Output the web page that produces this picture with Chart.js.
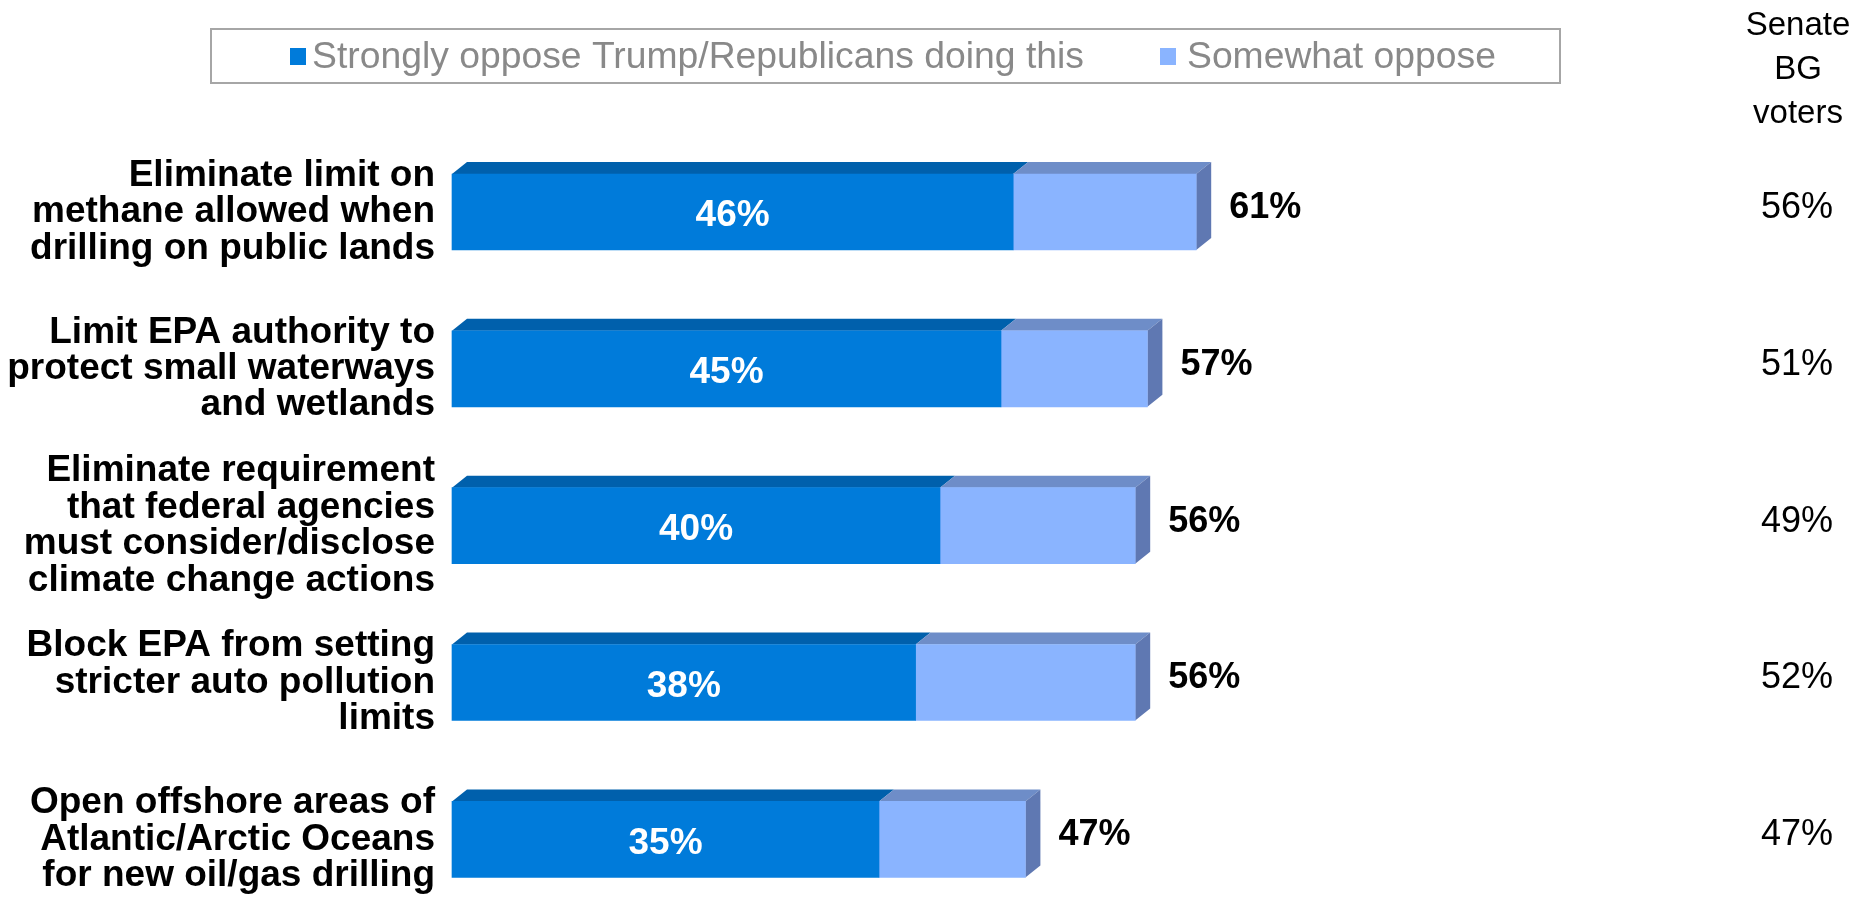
<!DOCTYPE html>
<html>
<head>
<meta charset="utf-8">
<script src="https://cdn.jsdelivr.net/npm/chart.js@4"></script>
<style>
  html, body { margin: 0; background: #fff; }
  canvas { display: block; }
</style>
</head>
<body>
<canvas id="chart" width="1870" height="911"></canvas>
<script>
const categories = [
  ["Eliminate limit on", "methane allowed when", "drilling on public lands"],
  ["Limit EPA authority to", "protect small waterways", "and wetlands"],
  ["Eliminate requirement", "that federal agencies", "must consider/disclose", "climate change actions"],
  ["Block EPA from setting", "stricter auto pollution", "limits"],
  ["Open offshore areas of", "Atlantic/Arctic Oceans", "for new oil/gas drilling"]
];
const strongly = [46, 45, 40, 38, 35];
const somewhat = [15, 12, 16, 18, 12];
const totals = [61, 57, 56, 56, 47];
const senateBG = [56, 51, 49, 52, 47];
const seriesNames = ["Strongly oppose Trump/Republicans doing this", "Somewhat oppose"];
const sideHeader = ["Senate", "BG", "voters"];

const FONT = "'Liberation Sans', Arial, sans-serif";
const DX = 15, DY = 12;
const fronts = ["#007bda", "#8ab4ff"];
const tops = ["#0060ac", "#6e8dc8"];
const sideColor = "#5f78b2";

// fake 3d: top faces for every bar, side face on the last segment
const bars3d = {
  id: "bars3d",
  beforeDatasetsDraw(chart) {
    const ctx = chart.ctx;
    const last = chart.data.datasets.length - 1;
    ctx.save();
    chart.data.datasets.forEach((ds, di) => {
      chart.getDatasetMeta(di).data.forEach(bar => {
        const top = bar.y - bar.height / 2;
        const bottom = bar.y + bar.height / 2;
        const l = Math.min(bar.base, bar.x), r = Math.max(bar.base, bar.x);
        ctx.fillStyle = tops[di];
        ctx.beginPath();
        ctx.moveTo(l, top);
        ctx.lineTo(l + DX, top - DY);
        ctx.lineTo(r + DX, top - DY);
        ctx.lineTo(r, top);
        ctx.closePath();
        ctx.fill();
        if (di === last) {
          ctx.fillStyle = sideColor;
          ctx.beginPath();
          ctx.moveTo(r, top);
          ctx.lineTo(r + DX, top - DY);
          ctx.lineTo(r + DX, bottom - DY);
          ctx.lineTo(r, bottom);
          ctx.closePath();
          ctx.fill();
        }
      });
    });
    ctx.restore();
  }
};

const labels = {
  id: "labels",
  afterDatasetsDraw(chart) {
    const ctx = chart.ctx;
    ctx.save();
    ctx.textBaseline = "middle";
    // values inside the strong segment
    ctx.font = "bold 37px " + FONT;
    ctx.fillStyle = "#fff";
    ctx.textAlign = "center";
    chart.getDatasetMeta(0).data.forEach((bar, i) => {
      ctx.fillText(strongly[i] + "%", (bar.base + bar.x) / 2, bar.y + 4);
    });
    // totals to the right of the bar
    ctx.font = "bold 36px " + FONT;
    ctx.fillStyle = "#000";
    ctx.textAlign = "left";
    chart.getDatasetMeta(1).data.forEach((bar, i) => {
      ctx.fillText(totals[i] + "%", bar.x + DX + 18, bar.y - 4);
    });
    // Senate BG column
    ctx.font = "36px " + FONT;
    ctx.textAlign = "center";
    chart.getDatasetMeta(1).data.forEach((bar, i) => {
      ctx.fillText(senateBG[i] + "%", 1797, bar.y - 4);
    });
    ctx.font = "33px " + FONT;
    ctx.textBaseline = "alphabetic";
    sideHeader.forEach((t, i) => ctx.fillText(t, 1798, 35 + i * 44));
    ctx.restore();
  },
  afterDraw(chart) {
    const ctx = chart.ctx;
    ctx.save();
    ctx.strokeStyle = "#a6a6a6";
    ctx.lineWidth = 2;
    ctx.strokeRect(211, 29, 1349, 54);
    const items = [[290, 312], [1160, 1187]];
    ctx.font = "37.3px " + FONT;
    ctx.textBaseline = "middle";
    ctx.textAlign = "left";
    seriesNames.forEach((name, i) => {
      ctx.fillStyle = fronts[i];
      ctx.fillRect(items[i][0], 48, 16, 17);
      ctx.fillStyle = "#898989";
      ctx.fillText(name, items[i][1], 58);
    });
    ctx.restore();
  }
};

new Chart(document.getElementById("chart"), {
  type: "bar",
  data: {
    labels: categories,
    datasets: [
      { label: seriesNames[0], data: strongly, backgroundColor: fronts[0], barThickness: 76, clip: false },
      { label: seriesNames[1], data: somewhat, backgroundColor: fronts[1], barThickness: 76, clip: false }
    ]
  },
  options: {
    indexAxis: "y",
    responsive: false,
    animation: false,
    layout: { padding: { top: 212, bottom: 67, left: 0, right: 198 } },
    plugins: { legend: { display: false }, tooltip: { enabled: false } },
    scales: {
      x: { stacked: true, min: 0, max: 100, display: false },
      y: {
        stacked: true,
        offset: false,
        grid: { display: false, drawTicks: false },
        border: { display: false },
        afterFit: s => { s.width = 452; },
        ticks: {
          padding: 17,
          color: "#000",
          font: { family: FONT, size: 37, weight: "bold", lineHeight: 0.984 }
        }
      }
    }
  },
  plugins: [bars3d, labels]
});
</script>
</body>
</html>
